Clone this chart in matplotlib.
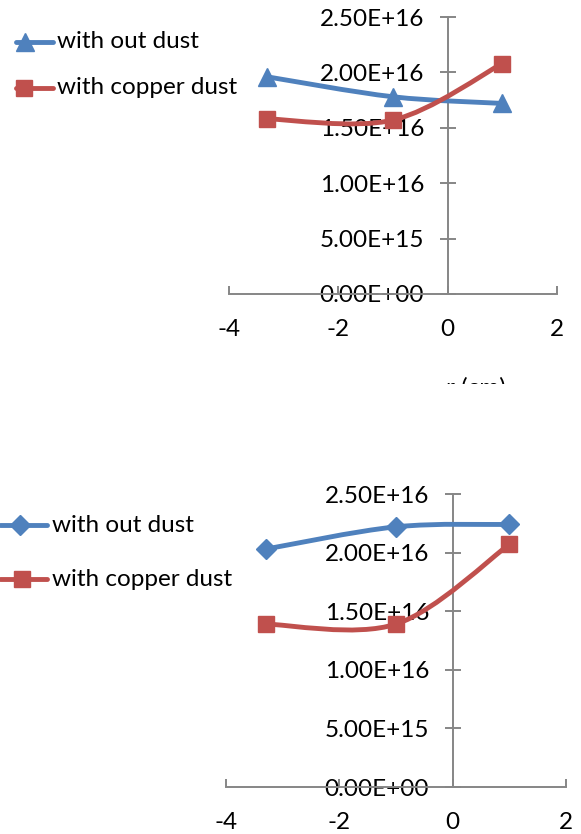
import numpy as np
import matplotlib
matplotlib.use('Agg')
import matplotlib.pyplot as plt
from matplotlib.path import Path
from matplotlib.patches import PathPatch
from matplotlib.lines import Line2D
from matplotlib.ticker import FuncFormatter
from matplotlib.transforms import Bbox

plt.rcParams['font.family'] = ['Lato', 'DejaVu Sans']
plt.rcParams['axes.unicode_minus'] = False

# data
x_pos = [-3.3, -1, 1]
top_no_dust = [1.96e16, 1.78e16, 1.72e16]
top_copper = [1.58e16, 1.57e16, 2.08e16]
bot_no_dust = [2.03e16, 2.22e16, 2.24e16]
bot_copper = [1.39e16, 1.39e16, 2.07e16]
series_names = ['with out dust', 'with copper dust']
x_ticks = [-4, -2, 0, 2]
y_ticks = [0, 5e15, 1e16, 1.5e16, 2e16, 2.5e16]
x_label = 'r (cm)'

blue = '#4F81BD'
red = '#C0504D'
axis_grey = '#868686'
W, H = 581, 834
FS = 17.5


def smooth_path(xs, ys):
    # Excel-like smoothed line: Catmull-Rom turned into cubic Bezier pieces
    pts = np.column_stack([xs, ys]).astype(float)
    ext = np.vstack([pts[0], pts, pts[-1]])
    verts = [pts[0]]
    codes = [Path.MOVETO]
    for i in range(1, len(ext) - 2):
        p0, p1, p2, p3 = ext[i - 1], ext[i], ext[i + 1], ext[i + 2]
        c1 = p1 + (p2 - p0) / 6
        c2 = p2 - (p3 - p1) / 6
        verts += [c1, c2, p2]
        codes += [Path.CURVE4] * 3
    return Path(verts, codes)


def draw_chart(ax, ys1, ys2, marker1, ms1):
    for ys, col, mk, ms in [(ys1, blue, marker1, ms1), (ys2, red, 's', 12)]:
        ax.add_patch(PathPatch(smooth_path(x_pos, ys), fill=False, edgecolor=col,
                               lw=3.5, capstyle='round', zorder=3))
        ax.plot(x_pos, ys, linestyle='none', marker=mk, ms=ms, color=col,
                markeredgecolor=col, zorder=4)
    ax.set_xlim(-4, 2)
    ax.set_ylim(0, 2.5e16)
    ax.spines['left'].set_position(('data', 0))
    ax.spines['bottom'].set_position(('data', 0))
    for s in ['top', 'right']:
        ax.spines[s].set_visible(False)
    for s in ['left', 'bottom']:
        ax.spines[s].set_color(axis_grey)
        ax.spines[s].set_linewidth(1.4)
    ax.set_xticks(x_ticks)
    ax.set_yticks(y_ticks)
    ax.yaxis.set_major_formatter(FuncFormatter(lambda v, p: f'{v:.2E}'))
    ax.tick_params(axis='x', direction='in', length=6, width=1.4, color=axis_grey,
                   labelsize=FS, pad=18)
    ax.tick_params(axis='y', direction='inout', length=12, width=1.4, color=axis_grey,
                   labelsize=FS, pad=11)
    ax.patch.set_visible(False)


def legend_entry(fig, y, x0, x1, xm, text_x, col, mk, ms, label):
    fy = 1 - y / H
    fig.add_artist(Line2D([x0 / W, x1 / W], [fy, fy], color=col, lw=3.5,
                          solid_capstyle='round', transform=fig.transFigure))
    fig.add_artist(Line2D([xm / W], [fy], color=col, marker=mk, ms=ms,
                          markeredgecolor=col, transform=fig.transFigure))
    fig.text(text_x / W, fy, label, fontsize=FS, va='center', ha='left')


fig = plt.figure(figsize=(W / 100, H / 100), dpi=100)

ax1 = fig.add_axes([229 / W, 1 - 294 / H, 328 / W, 277 / H])
draw_chart(ax1, top_no_dust, top_copper, '^', 13)
ax2 = fig.add_axes([226 / W, 1 - 787 / H, 340 / W, 293 / H])
draw_chart(ax2, bot_no_dust, bot_copper, 'D', 10)

legend_entry(fig, 42, 16, 53, 25, 57, blue, '^', 13, series_names[0])
legend_entry(fig, 88, 16, 53, 24, 57, red, 's', 12, series_names[1])
legend_entry(fig, 525, 0, 47, 20, 52, blue, 'D', 10, series_names[0])
legend_entry(fig, 579, 0, 47, 22, 52, red, 's', 12, series_names[1])

# axis title of the upper chart, cut off by the crop
t = fig.text(476 / W, 1 - 377 / H, x_label, fontsize=FS, ha='center', va='top')
t.set_clip_box(Bbox([[380, H - 384], [580, H - 360]]))
t.set_clip_on(True)

fig.savefig('out.png', dpi=100)
